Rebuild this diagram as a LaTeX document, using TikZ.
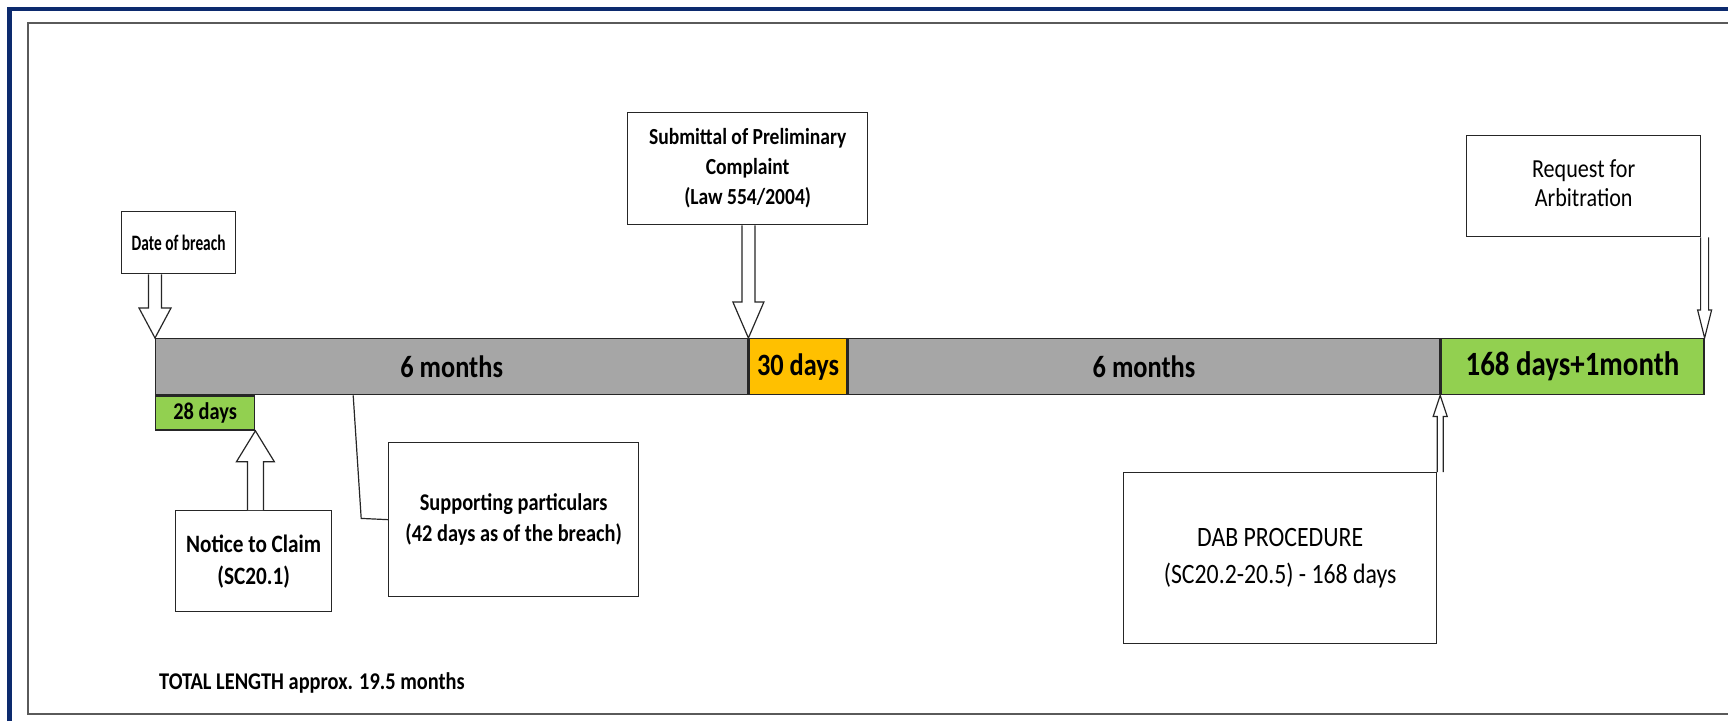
\documentclass[tikz,border=0pt]{standalone}
\usepackage{fontspec}
\setmainfont{Carlito}[FakeStretch=0.85]
\newfontfamily\condfont{Carlito}[FakeStretch=0.7]
\usetikzlibrary{calc}

\definecolor{barGray}{HTML}{A6A6A6}
\definecolor{barGreen}{HTML}{92D050}
\definecolor{barOrange}{HTML}{FFC000}
\definecolor{frameBlue}{HTML}{0C2A6E}
\definecolor{frameGray}{HTML}{5A5A5A}
\definecolor{lineDark}{HTML}{262626}

\tikzset{
  box/.style={draw=lineDark, line width=1.3pt, inner sep=0pt, align=center, anchor=north west},
  seg/.style={draw=lineDark, line width=1.4pt, inner sep=0pt, anchor=north west,
    minimum height=56pt, font=\bfseries\fontsize{31}{36}\selectfont},
  note/.style={font=\bfseries\fontsize{23}{30}\selectfont},
  blockarr/.style={draw=lineDark, line width=1.2pt, fill=white, line join=miter},
}

% hollow block arrow: start, tip, half shaft, half head, head length
\newcommand{\blockarrow}[5]{%
  \path[blockarr] let \p1=(#1), \p2=(#2), \n1={sign(\y2-\y1)} in
    ({\x2-#3},\y1) -- ({\x2-#3},{\y2-(\n1)*#5}) -- ({\x2-#4},{\y2-(\n1)*#5}) -- (\x2,\y2)
    -- ({\x2+#4},{\y2-(\n1)*#5}) -- ({\x2+#3},{\y2-(\n1)*#5}) -- ({\x2+#3},\y1);}

\begin{document}
\begin{tikzpicture}[x=1pt,y=-1pt]

      \useasboundingbox (0,0) rectangle (1728,721);

      % Frames
      \draw[frameBlue, line width=4.5pt] (9.5,721) -- (9.5,9) -- (1728,9);
      \draw[frameGray, line width=2pt] (1728,22.5) -- (27.5,22.5) -- (27.5,713.5) -- (1728,713.5);

      % Time bar
      \node[seg, fill=barGray, minimum width=592pt] (seg1) at (155,338) {6 months};
      \node[seg, fill=barOrange, minimum width=98pt] (seg30) at (seg1.north east) {30 days};
      \node[seg, fill=barGray, minimum width=591pt] (seg2) at (seg30.north east) {6 months};
      \node[seg, fill=barGreen, minimum width=263pt, font=\bfseries\fontsize{34}{36}\selectfont]
        (segdab) at (seg2.north east) {168 days+1month};
      \node[seg, fill=barGreen, minimum width=99pt, minimum height=34pt,
        font=\bfseries\fontsize{24}{26}\selectfont] (days28) at (seg1.south west) {28 days};

      % Events
      \node[box, minimum width=114pt, minimum height=62pt, font=\condfont\bfseries\fontsize{22}{24}\selectfont]
        (breach) at (121,211) {Date of breach};
      \node[box, note, minimum width=240pt, minimum height=112pt] (prelim) at (627,112)
        {Submittal of Preliminary\\Complaint\\(Law 554/2004)};
      \node[box, minimum width=234pt, minimum height=101pt, font=\fontsize{26}{29}\selectfont]
        (arbit) at (1466,135) {Request for\\Arbitration\rule[-7pt]{0pt}{1pt}};
      \node[box, minimum width=156pt, minimum height=101pt, font=\bfseries\fontsize{25}{32}\selectfont]
        (notice) at (175,510) {Notice to Claim\\(SC20.1)};
      \node[box, minimum width=250pt, minimum height=154pt, font=\bfseries\fontsize{24}{31}\selectfont]
        (support) at (388,442) {Supporting particulars\\(42 days as of the breach)};
      \node[box, minimum width=313pt, minimum height=171pt, font=\fontsize{28}{37}\selectfont]
        (dab) at (1123,472) {DAB PROCEDURE\\(SC20.2-20.5) - 168 days};
      \node[note, anchor=west, inner sep=0pt, font=\bfseries\fontsize{24}{30}\selectfont]
        (total) at (159,683) {TOTAL LENGTH approx. 19.5 months};

      % Arrows
      \blockarrow{breach.south}{seg1.north west}{6.5pt}{16pt}{30pt}
      \blockarrow{prelim.south}{seg1.north east}{6.5pt}{15.5pt}{36pt}
      \blockarrow{notice.north}{days28.south east}{8pt}{19pt}{31pt}
      \blockarrow{dab.north east}{segdab.south west}{3pt}{7pt}{21pt}
      \blockarrow{arbit.south east}{segdab.north east}{4pt}{7pt}{28pt}

      % Callout line
      \coordinate (spt) at ($(seg1.south west)!0.334!(seg1.south east)$);
      \draw[lineDark, line width=1.2pt] (spt) -- ++(8,123) -- (support.west);

    \end{tikzpicture}
\end{document}
